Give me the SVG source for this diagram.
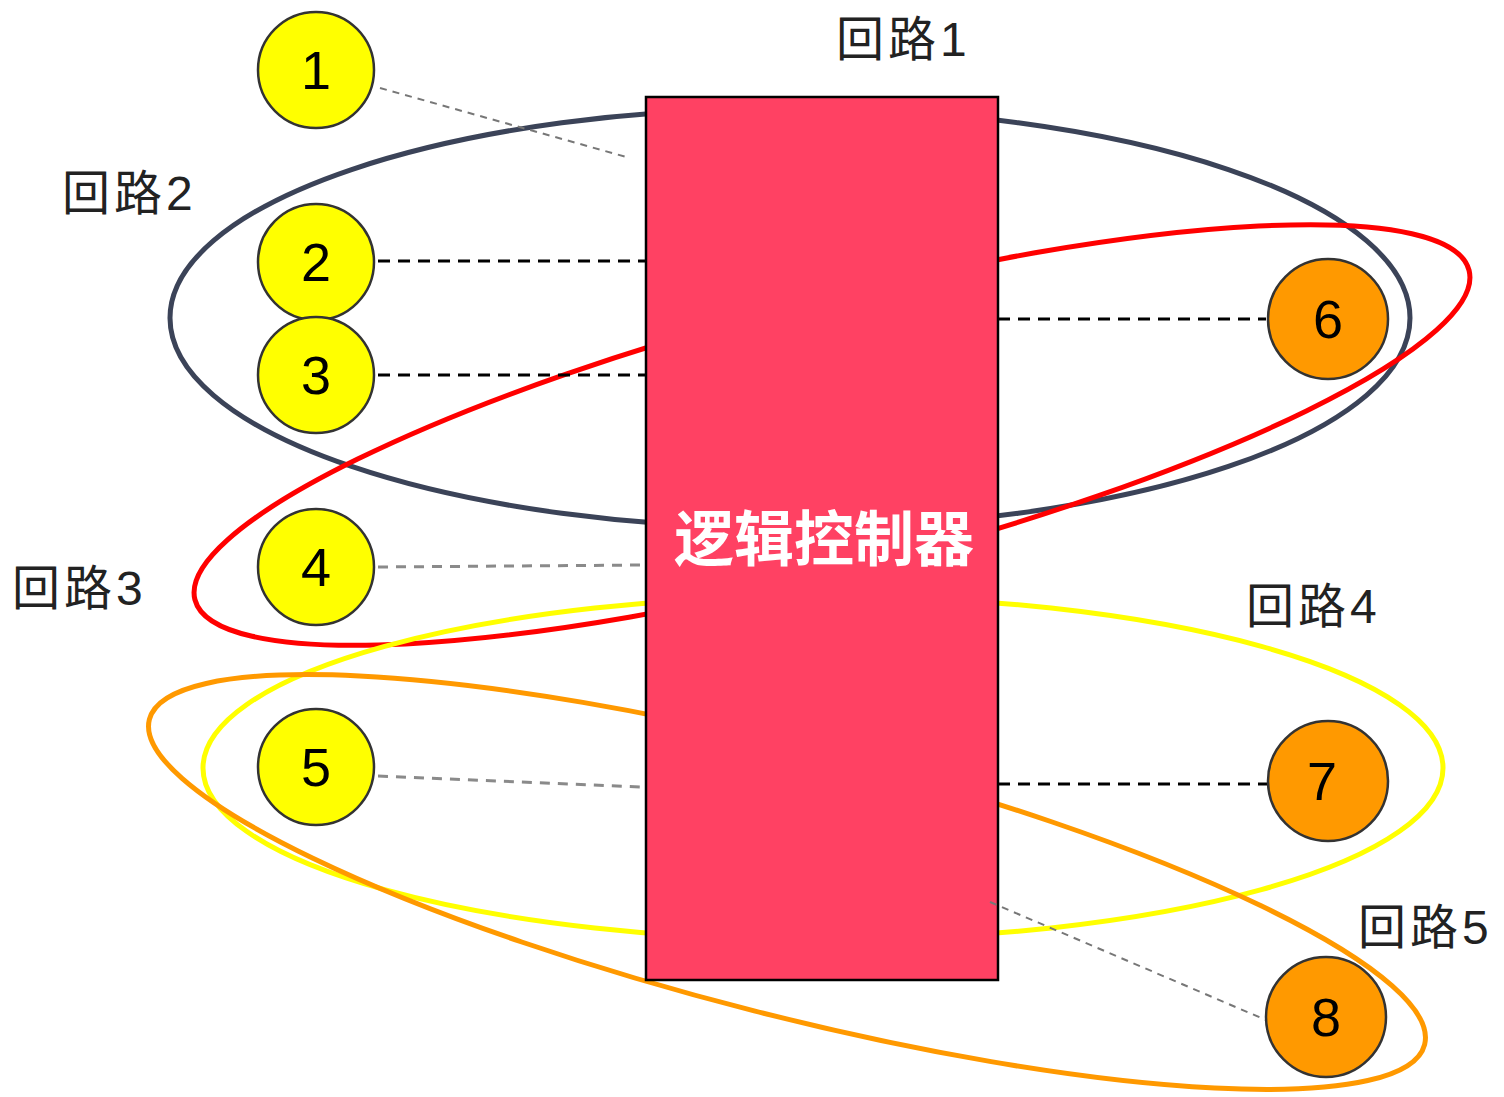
<svg xmlns="http://www.w3.org/2000/svg" width="1504" height="1097" viewBox="0 0 1504 1097">
<style>
.loop{fill:none;stroke-width:5}
.yc{fill:#FFFF00;stroke:#333;stroke-width:2.5}
.oc{fill:#FF9900;stroke:#333;stroke-width:2.5}
.num{font-family:"Liberation Sans",Arial,sans-serif;font-size:54px;fill:#000;text-anchor:middle}
.lbl{font-family:"Liberation Sans","Noto Sans CJK SC",sans-serif;font-size:48px;fill:#222;letter-spacing:4px}
.dk{stroke:#000;stroke-width:3;stroke-dasharray:12 8;fill:none}
.gr{stroke:#777;stroke-width:2;stroke-dasharray:7 6;fill:none}
.gm{stroke:#8a8a8a;stroke-width:3;stroke-dasharray:10 8;fill:none}
</style>
<rect width="1504" height="1097" fill="#fff"/>
<g id="loops">
<ellipse id="loop-gray" class="loop" cx="790" cy="318" rx="620" ry="210" stroke="#3B4358"/>
<ellipse id="loop-red" class="loop" cx="832" cy="435" rx="658" ry="135" transform="rotate(-14.5 832 435)" stroke="#FF0000"/>
<ellipse id="loop-yellow" class="loop" cx="823" cy="768" rx="620" ry="172" stroke="#FFFF00"/>
<ellipse id="loop-orange" class="loop" cx="787" cy="882" rx="658" ry="133" transform="rotate(14.3 787 882)" stroke="#FF9900"/>
</g>
<g id="controller">
<rect x="646" y="97" width="352" height="883" fill="#FF4163" stroke="#000" stroke-width="2.5"/>
<text x="824" y="561" font-family="'Noto Sans CJK SC',sans-serif" font-size="60" font-weight="bold" fill="#fff" text-anchor="middle">逻辑控制器</text>
</g>
<g id="connectors">
<line class="gr" x1="380" y1="88" x2="630" y2="158"/>
<line class="dk" x1="378" y1="261" x2="646" y2="261"/>
<line class="dk" x1="378" y1="375" x2="646" y2="375"/>
<line class="gm" x1="378" y1="567" x2="646" y2="565"/>
<line class="gm" x1="378" y1="776" x2="640" y2="787"/>
<line class="dk" x1="998" y1="319" x2="1266" y2="319"/>
<line class="dk" x1="998" y1="784" x2="1268" y2="784"/>
<line class="gr" x1="990" y1="902" x2="1266" y2="1020"/>
</g>
<g id="n1"><circle class="yc" cx="316" cy="70" r="58"/><text class="num" x="316" y="89">1</text></g>
<g id="n2"><circle class="yc" cx="316" cy="262" r="58"/><text class="num" x="316" y="281">2</text></g>
<g id="n3"><circle class="yc" cx="316" cy="375" r="58"/><text class="num" x="316" y="394">3</text></g>
<g id="n4"><circle class="yc" cx="316" cy="567" r="58"/><text class="num" x="316" y="586">4</text></g>
<g id="n5"><circle class="yc" cx="316" cy="767" r="58"/><text class="num" x="316" y="786">5</text></g>
<g id="n6"><circle class="oc" cx="1328" cy="319" r="60"/><text class="num" x="1328" y="338">6</text></g>
<g id="n7"><circle class="oc" cx="1328" cy="781" r="60"/><text class="num" x="1322" y="800">7</text></g>
<g id="n8"><circle class="oc" cx="1326" cy="1017" r="60"/><text class="num" x="1326" y="1036">8</text></g>
<g id="labels">
<text class="lbl" x="836" y="56">回路1</text>
<text class="lbl" x="62" y="210">回路2</text>
<text class="lbl" x="12" y="605">回路3</text>
<text class="lbl" x="1246" y="623">回路4</text>
<text class="lbl" x="1358" y="944">回路5</text>
</g>
</svg>
